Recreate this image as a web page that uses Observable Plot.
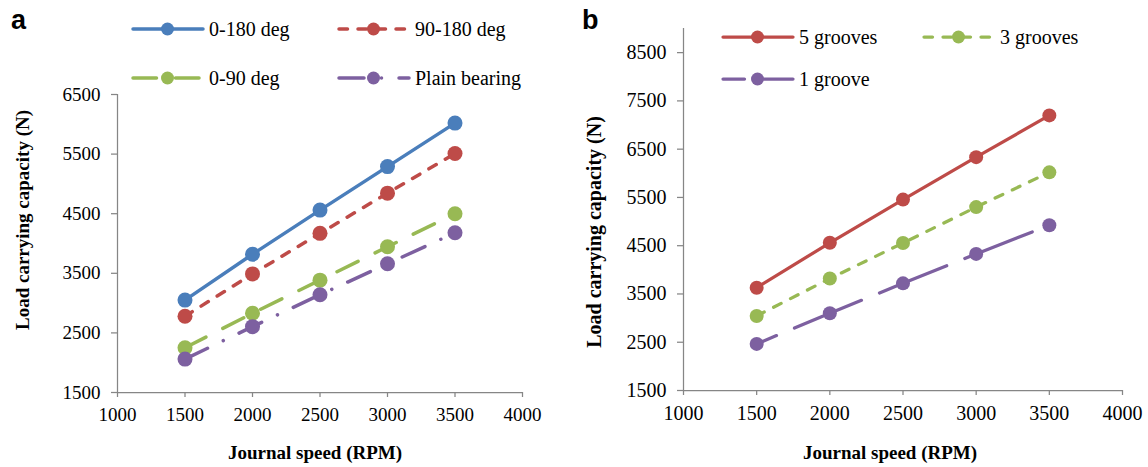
<!DOCTYPE html>
<html>
<head>
<meta charset="utf-8">
<script src="https://cdn.jsdelivr.net/npm/d3@7"></script>
<script src="https://cdn.jsdelivr.net/npm/@observablehq/plot@0.6"></script>
<style>
  html, body { margin: 0; padding: 0; background: #fff; }
  #wrap { position: relative; width: 1148px; height: 467px; overflow: hidden; background: #fff; }
  #wrap > svg { position: absolute; top: 0; }
</style>
</head>
<body>
<div id="wrap"></div>
<script>
// ---------------- data ----------------
const speeds = [1500, 2000, 2500, 3000, 3500];
const xTicks = [1000, 1500, 2000, 2500, 3000, 3500, 4000];
const xLabel = "Journal speed (RPM)";
const yLabel = "Load carrying capacity (N)";

// panel a
const aNames = ["0-180 deg", "90-180 deg", "0-90 deg", "Plain bearing"];
const a0to180 = [3050, 3820, 4560, 5290, 6020];
const a90to180 = [2780, 3490, 4170, 4845, 5510];
const a0to90 = [2250, 2830, 3385, 3945, 4500];
const aPlain = [2060, 2605, 3140, 3660, 4180];
const aYTicks = [1500, 2500, 3500, 4500, 5500, 6500];

// panel b
const bNames = ["5 grooves", "3 grooves", "1 groove"];
const b5 = [3630, 4560, 5455, 6335, 7200];
const b3 = [3045, 3820, 4555, 5300, 6020];
const b1 = [2465, 3100, 3720, 4330, 4925];
const bYTicks = [1500, 2500, 3500, 4500, 5500, 6500, 7500, 8500];

// ---------------- styles ----------------
const BLUE = "#4A7EBB", RED = "#BE4B48", GREEN = "#98B954", PURPLE = "#7D60A0";
const AXIS = "#868686";
const SERIF = "'Liberation Serif', 'Times New Roman', serif";

const panelA = {
  label: "a",
  names: aNames,
  values: [a0to180, a90to180, a0to90, aPlain],
  colors: [BLUE, RED, GREEN, PURPLE],
  dashes: [null, "8.5,10.5", "23.5,19", "25,17.5,0.01,17.5"],
  offsets: [0, 0, 0, 0],
  yDomain: [1500, 6500], yTicks: aYTicks,
  left: 0, width: 574,
  margin: {top: 94, right: 52, bottom: 75, left: 117},
  tickFont: 19, r: 7.5, sw: 3.5,
  legend: {cols: [133, 339], rows: [29, 78]},
  yTitle: {x: 22, y: 220, size: 19},
  xTitle: {x: 315, y: 452, size: 19},
  tag: {x: 11, y: 29}
};
const panelB = {
  label: "b",
  names: bNames,
  values: [b5, b3, b1],
  colors: [RED, GREEN, PURPLE],
  dashes: [null, "8.5,10.5", "72.5,19.5"],
  offsets: [0, 0, 51],
  yDomain: [1500, 9000], yTicks: bYTicks,
  left: 574, width: 574,
  margin: {top: 28, right: 26, bottom: 77, left: 109},
  tickFont: 20, r: 7, sw: 3.25,
  legend: {cols: [723, 924], rows: [37, 79]},
  yTitle: {x: 594, y: 232, size: 20},
  xTitle: {x: 890, y: 452, size: 19},
  tag: {x: 582, y: 29}
};

function buildPanel(p) {
  const marks = [
    Plot.ruleY([p.yDomain[0]], {stroke: AXIS, strokeWidth: 1.25}),
    Plot.ruleX([xTicks[0]], {stroke: AXIS, strokeWidth: 1.25}),
    Plot.axisX(xTicks, {
      tickSize: 5, tickPadding: 10, stroke: AXIS, strokeWidth: 1.25, fill: "#000",
      fontSize: p.tickFont, label: null, tickFormat: d => String(d)
    }),
    Plot.axisY(p.yTicks, {
      tickSize: 6, tickPadding: 11, stroke: AXIS, strokeWidth: 1.25, fill: "#000",
      fontSize: p.tickFont, label: null, tickFormat: d => String(d)
    })
  ];
  p.names.forEach((name, i) => {
    const rows = speeds.map((s, j) => ({series: name, speed: s, load: p.values[i][j]}));
    marks.push(Plot.line(rows, {
      x: "speed", y: "load", stroke: p.colors[i], strokeWidth: p.sw,
      strokeDasharray: p.dashes[i] || undefined, strokeDashoffset: p.offsets[i],
      strokeLinecap: "round", strokeLinejoin: "round"
    }));
    marks.push(Plot.dot(rows, {x: "speed", y: "load", r: p.r, fill: p.colors[i], stroke: "none"}));
  });
  const svg = Plot.plot({
    width: p.width, height: 467,
    marginTop: p.margin.top, marginRight: p.margin.right,
    marginBottom: p.margin.bottom, marginLeft: p.margin.left,
    x: {domain: [xTicks[0], xTicks[xTicks.length - 1]]},
    y: {domain: p.yDomain},
    style: {fontFamily: SERIF, fontSize: p.tickFont + "px", background: "transparent", color: "#000", overflow: "visible"},
    marks
  });
  svg.style.left = p.left + "px";
  svg.style.position = "absolute";
  svg.style.top = "0px";
  return svg;
}

const wrap = document.getElementById("wrap");
wrap.appendChild(buildPanel(panelA));
wrap.appendChild(buildPanel(panelB));

// ---------------- overlay: legends, titles, panel tags ----------------
const ov = d3.select(wrap).append("svg")
  .attr("width", 1148).attr("height", 467)
  .style("position", "absolute").style("left", "0px").style("top", "0px")
  .style("pointer-events", "none");

function decorate(p) {
  // legend
  p.names.forEach((name, i) => {
    const col = i % 2, row = Math.floor(i / 2);
    const x0 = p.legend.cols[col], y0 = p.legend.rows[row];
    const g = ov.append("g").attr("transform", `translate(${x0},${y0})`);
    g.append("line").attr("x1", 0).attr("x2", 70).attr("y1", 0).attr("y2", 0)
      .attr("stroke", p.colors[i]).attr("stroke-width", p.sw)
      .attr("stroke-linecap", "round")
      .attr("stroke-dasharray", p.dashes[i] || null)
      .attr("stroke-dashoffset", p.offsets[i]);
    g.append("circle").attr("cx", 34.5).attr("cy", 0).attr("r", 6.5).attr("fill", p.colors[i]);
    g.append("text").attr("x", 76).attr("y", 0).attr("dy", "0.33em")
      .attr("font-family", SERIF).attr("font-size", 20).attr("fill", "#000")
      .text(name);
  });
  // axis titles
  ov.append("text")
    .attr("transform", `translate(${p.yTitle.x},${p.yTitle.y}) rotate(-90)`)
    .attr("text-anchor", "middle").attr("dy", "0.35em")
    .attr("font-family", SERIF).attr("font-weight", "bold").attr("font-size", p.yTitle.size)
    .text(yLabel);
  ov.append("text")
    .attr("x", p.xTitle.x).attr("y", p.xTitle.y)
    .attr("text-anchor", "middle").attr("dy", "0.35em")
    .attr("font-family", SERIF).attr("font-weight", "bold").attr("font-size", p.xTitle.size)
    .text(xLabel);
  // panel tag
  ov.append("text").attr("x", p.tag.x).attr("y", p.tag.y)
    .attr("font-family", "'Liberation Sans', Arial, sans-serif")
    .attr("font-weight", "bold").attr("font-size", 27)
    .text(p.label);
}
decorate(panelA);
decorate(panelB);
</script>
</body>
</html>
